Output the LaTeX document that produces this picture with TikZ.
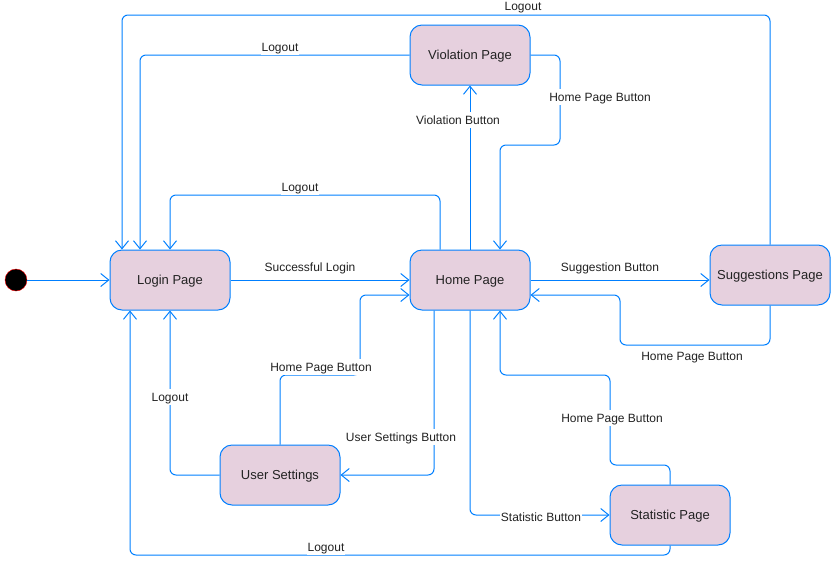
\documentclass[tikz,border=0pt]{standalone}
\usepackage{fontspec}
\setmainfont{Liberation Sans}
\usetikzlibrary{arrows.meta}
\definecolor{lineblue}{RGB}{0,127,255}
\definecolor{statefill}{RGB}{230,208,222}
\definecolor{txtgray}{RGB}{34,34,34}

\begin{document}
\begin{tikzpicture}
  [x=1pt,y=-1pt,
   every node/.style={text=txtgray},
   state/.style={draw=lineblue,line width=1pt,fill=statefill,rounded corners=12pt,
     minimum width=120pt,minimum height=60pt,text height=12.5pt,text depth=2.7pt,
     font=\fontsize{13}{15}\selectfont},
   lbl/.style={fill=white,inner sep=1pt,text height=11.5pt,text depth=2.5pt,
     font=\fontsize{12}{14}\selectfont},
   trans/.style={draw=lineblue,line width=1pt,rounded corners=6pt,
     -{Straight Barb[length=8pt,width=13pt]}}]
  \useasboundingbox (0,0) rectangle (831,566);

  \node[circle,draw=red,fill=black,minimum size=22pt,inner sep=0pt] (start) at (16,280) {};
  \node[state] (login) at (170,280) {Login Page};
  \node[state] (home)  at (470,280) {Home Page};
  \node[state] (viol)  at (470,55)  {Violation Page};
  \node[state] (sugg)  at (770,275) {Suggestions Page};
  \node[state] (user)  at (280,475) {User Settings};
  \node[state] (stat)  at (670,515) {Statistic Page};

  % straight transitions
  \draw[trans] (start) -- (login);
  \draw[trans] (login) -- (home);
  \draw[trans] (home) -- (viol);
  \draw[trans] (home.east) -- (home.east -| sugg.west);

  % back to home
  \draw[trans] (viol.east) -- (560,55) -- (560,145) -| ([xshift=30pt]home.north);
  \draw[trans] (sugg.south) -- (770,345) -| (620,295) -- ([yshift=-15pt]home.east);
  \draw[trans] (user.north) -- (280,375) -| (360,295) -- ([yshift=-15pt]home.west);
  \draw[trans] (stat.north) -- (670,465) -| (610,375) -| ([xshift=30pt]home.south);

  % from home
  \draw[trans] ([xshift=-36pt]home.south) |- (user.east);
  \draw[trans] (home.south) |- (stat.west);

  % logout
  \draw[trans] (viol.west) -| ([xshift=-30pt]login.north);
  \draw[trans] ([xshift=-30pt]home.north) -- (440,195) -| (login.north);
  \draw[trans] (sugg.north) -- (770,15) -| ([xshift=-48pt]login.north);
  \draw[trans] (user.west) -| (login.south);
  \draw[trans] (stat.south) -- (670,555) -| ([xshift=-40pt]login.south);

  % labels
  \node[lbl] (l1)  at (310,267) {Successful Login};
  \node[lbl] (l2)  at (458,120) {Violation Button};
  \node[lbl] (l3)  at (600,97)  {Home Page Button};
  \node[lbl] (l4)  at (610,267) {Suggestion Button};
  \node[lbl] (l5)  at (692,356) {Home Page Button};
  \node[lbl] (l6)  at (321,367) {Home Page Button};
  \node[lbl] (l7)  at (401,437) {User Settings Button};
  \node[lbl] (l8)  at (612,418) {Home Page Button};
  \node[lbl] (l9)  at (541,517) {Statistic Button};
  \node[lbl] (l10) at (280,47)  {Logout};
  \node[lbl] (l11) at (300,187) {Logout};
  \node[lbl] (l12) at (523,6)   {Logout};
  \node[lbl] (l13) at (170,397) {Logout};
  \node[lbl] (l14) at (326,547) {Logout};
\end{tikzpicture}
\end{document}
